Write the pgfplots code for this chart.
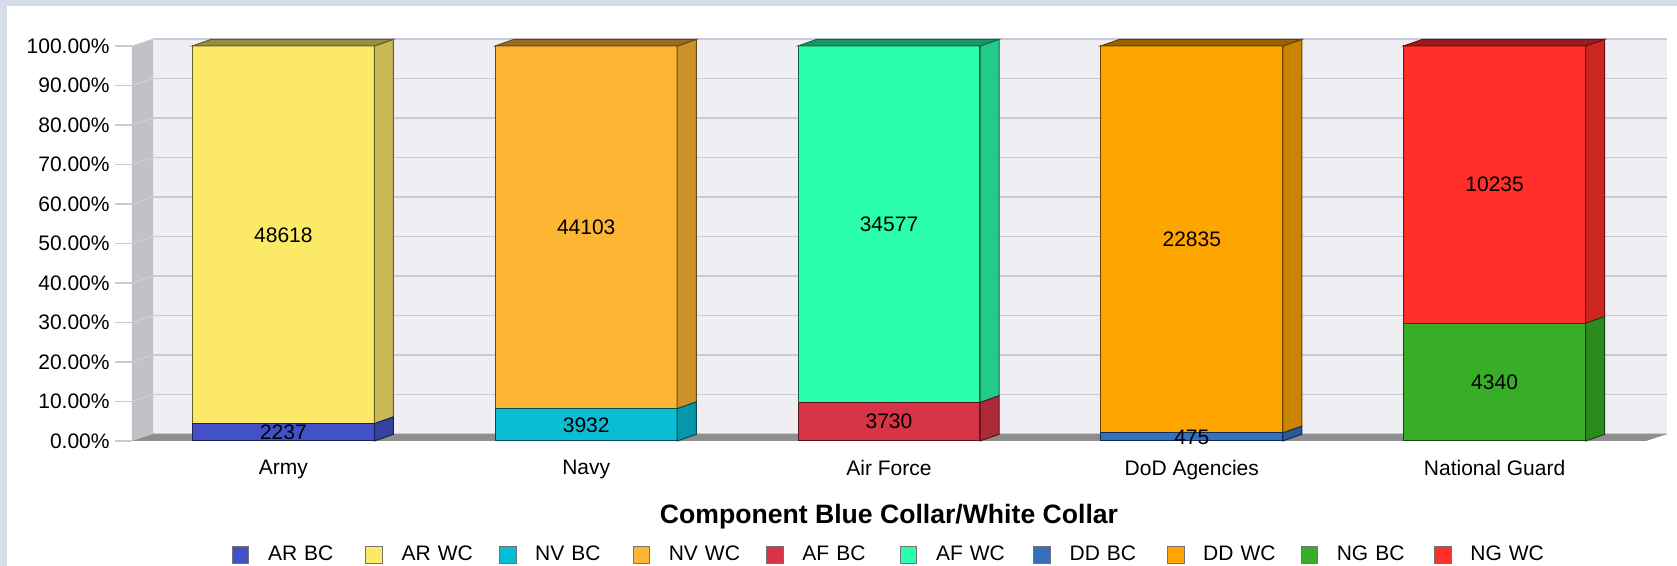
\documentclass[border=0pt]{standalone}
\usepackage{pgfplots}
\pgfplotsset{compat=1.18}
\usepackage{fontspec}
\setmainfont{Liberation Sans}
\definecolor{arbc}{HTML}{4351C8}
\definecolor{arwc}{HTML}{FDE968}
\definecolor{nvbc}{HTML}{09BDD5}
\definecolor{nvwc}{HTML}{FDB633}
\definecolor{afbc}{HTML}{D73447}
\definecolor{afwc}{HTML}{2AFEAB}
\definecolor{ddbc}{HTML}{3570C0}
\definecolor{ddwc}{HTML}{FFA500}
\definecolor{ngbc}{HTML}{38AD27}
\definecolor{ngwc}{HTML}{FF2F2A}
\definecolor{wallc}{HTML}{EEEEF3}
\definecolor{gridc}{HTML}{C9C9DB}
\definecolor{sidewall}{HTML}{C2C2C6}
\definecolor{sidegrid}{HTML}{D2D2DA}
\definecolor{floorc}{HTML}{8E8E8E}
\definecolor{bandc}{HTML}{D6DDE8}
\pgfplotsset{
  front/.style={ybar, fill=#1, draw=#1!40!black, line width=0.5pt, forget plot},
  side/.style={fill=#1!80!black, draw=#1!40!black, line width=0.5pt, forget plot},
  topf/.style={fill=#1!60!black, draw=#1!40!black, line width=0.5pt, forget plot},
}
\begin{document}
\begin{tikzpicture}
\fill[bandc] (-66pt,-62.5pt) rectangle (772.5pt,220.5pt);
\fill[white] (-62.5pt,-62.5pt) rectangle (772.5pt,217.5pt);
\begin{axis}[
  at={(10.5pt,3.5pt)}, anchor=south west,
  scale only axis, width=757pt, height=197.5pt,
  xmin=-0.5, xmax=4.5, ymin=0, ymax=100,
  clip=false,
  axis line style={draw=none},
  axis background/.style={fill=wallc, xshift=10.5pt, yshift=3.5pt},
  ymajorgrids,
  major grid style={draw=gridc, line width=0.6pt, xshift=10.5pt, yshift=3.5pt},
  ytick={0,10,20,30,40,50,60,70,80,90,100},
  yticklabels={0.00\%,10.00\%,20.00\%,30.00\%,40.00\%,50.00\%,60.00\%,70.00\%,80.00\%,90.00\%,100.00\%},
  xtick={0,1,2,3,4},
  xticklabels={Army,Navy,Air Force,DoD Agencies,National Guard},
  major tick length=8.5pt, tick align=outside, ytick pos=left, xtick pos=bottom,
  xtick style={draw=none}, ytick style={draw=gridc, line width=0.6pt},
  yticklabel style={font=\fontsize{10.5}{12}\selectfont, inner xsep=2.5pt},
  xticklabel style={font=\fontsize{10.5}{12}\selectfont, anchor=north, inner ysep=0pt, yshift=-0.8pt},
  bar width=0.601, bar shift=0pt,
  legend columns=10,
  legend style={at={(0.0520,-0.3063)}, anchor=west, draw=none, fill=none,
    inner sep=0pt, outer sep=0pt, font=\fontsize{10.5}{12}\selectfont,
    nodes={text width=48.65pt, align=left, inner xsep=0pt, inner ysep=0pt},
    /tikz/every odd column/.append style={column sep=9.35pt},
    /tikz/every even column/.append style={column sep=0pt}},
  legend image code/.code={\draw[#1, line width=0.5pt] (0pt,-4.15pt) rectangle (8.3pt,4.15pt);},
]
% legend
\addlegendimage{fill=arbc, draw=black!55}\addlegendentry{AR BC}
\addlegendimage{fill=arwc, draw=black!55}\addlegendentry{AR WC}
\addlegendimage{fill=nvbc, draw=black!55}\addlegendentry{NV BC}
\addlegendimage{fill=nvwc, draw=black!55}\addlegendentry{NV WC}
\addlegendimage{fill=afbc, draw=black!55}\addlegendentry{AF BC}
\addlegendimage{fill=afwc, draw=black!55}\addlegendentry{AF WC}
\addlegendimage{fill=ddbc, draw=black!55}\addlegendentry{DD BC}
\addlegendimage{fill=ddwc, draw=black!55}\addlegendentry{DD WC}
\addlegendimage{fill=ngbc, draw=black!55}\addlegendentry{NG BC}
\addlegendimage{fill=ngwc, draw=black!55}\addlegendentry{NG WC}
% left wall and floor
\addplot[fill=sidewall, draw=none, forget plot] coordinates {(-0.5,0) (-0.4306,1.77) (-0.4306,101.77) (-0.5,100)} -- cycle;
\addplot[fill=floorc, draw=none, forget plot] coordinates {(-0.5,0) (-0.4306,1.77) (4.5694,1.77) (4.5,0)} -- cycle;
\addplot[sidegrid, forget plot] coordinates {(-0.5,10) (-0.4306,11.77)};
\addplot[sidegrid, forget plot] coordinates {(-0.5,20) (-0.4306,21.77)};
\addplot[sidegrid, forget plot] coordinates {(-0.5,30) (-0.4306,31.77)};
\addplot[sidegrid, forget plot] coordinates {(-0.5,40) (-0.4306,41.77)};
\addplot[sidegrid, forget plot] coordinates {(-0.5,50) (-0.4306,51.77)};
\addplot[sidegrid, forget plot] coordinates {(-0.5,60) (-0.4306,61.77)};
\addplot[sidegrid, forget plot] coordinates {(-0.5,70) (-0.4306,71.77)};
\addplot[sidegrid, forget plot] coordinates {(-0.5,80) (-0.4306,81.77)};
\addplot[sidegrid, forget plot] coordinates {(-0.5,90) (-0.4306,91.77)};
\addplot[sidegrid, forget plot] coordinates {(-0.5,100) (-0.4306,101.77)};
% Army
\addplot[front=arwc] coordinates {(0,100)};
\addplot[side=arwc] coordinates {(0.3006,4.399) (0.3636,6.099) (0.3636,101.7) (0.3006,100)} -- cycle;
\addplot[topf=arwc] coordinates {(-0.3006,100) (-0.2376,101.7) (0.3636,101.7) (0.3006,100)} -- cycle;
\addplot[front=arbc] coordinates {(0,4.399)};
\addplot[side=arbc] coordinates {(0.3006,0) (0.3636,1.7) (0.3636,6.099) (0.3006,4.399)} -- cycle;
% Navy
\addplot[front=nvwc] coordinates {(1,100)};
\addplot[side=nvwc] coordinates {(1.3006,8.186) (1.3636,9.886) (1.3636,101.7) (1.3006,100)} -- cycle;
\addplot[topf=nvwc] coordinates {(0.6994,100) (0.7624,101.7) (1.3636,101.7) (1.3006,100)} -- cycle;
\addplot[front=nvbc] coordinates {(1,8.186)};
\addplot[side=nvbc] coordinates {(1.3006,0) (1.3636,1.7) (1.3636,9.886) (1.3006,8.186)} -- cycle;
% Air Force
\addplot[front=afwc] coordinates {(2,100)};
\addplot[side=afwc] coordinates {(2.3006,9.737) (2.3636,11.437) (2.3636,101.7) (2.3006,100)} -- cycle;
\addplot[topf=afwc] coordinates {(1.6994,100) (1.7624,101.7) (2.3636,101.7) (2.3006,100)} -- cycle;
\addplot[front=afbc] coordinates {(2,9.737)};
\addplot[side=afbc] coordinates {(2.3006,0) (2.3636,1.7) (2.3636,11.437) (2.3006,9.737)} -- cycle;
% DoD Agencies
\addplot[front=ddwc] coordinates {(3,100)};
\addplot[side=ddwc] coordinates {(3.3006,2.038) (3.3636,3.738) (3.3636,101.7) (3.3006,100)} -- cycle;
\addplot[topf=ddwc] coordinates {(2.6994,100) (2.7624,101.7) (3.3636,101.7) (3.3006,100)} -- cycle;
\addplot[front=ddbc] coordinates {(3,2.038)};
\addplot[side=ddbc] coordinates {(3.3006,0) (3.3636,1.7) (3.3636,3.738) (3.3006,2.038)} -- cycle;
% National Guard
\addplot[front=ngwc] coordinates {(4,100)};
\addplot[side=ngwc] coordinates {(4.3006,29.777) (4.3636,31.477) (4.3636,101.7) (4.3006,100)} -- cycle;
\addplot[topf=ngwc] coordinates {(3.6994,100) (3.7624,101.7) (4.3636,101.7) (4.3006,100)} -- cycle;
\addplot[front=ngbc] coordinates {(4,29.777)};
\addplot[side=ngbc] coordinates {(4.3006,0) (4.3636,1.7) (4.3636,31.477) (4.3006,29.777)} -- cycle;
% value labels
\addplot[draw=none, forget plot, nodes near coords, point meta=explicit symbolic,
  nodes near coords style={anchor=center, font=\fontsize{10.5}{12}\selectfont, text=black}]
  coordinates {(0,2.20)[2237] (0,52.20)[48618] (1,4.09)[3932] (1,54.09)[44103]
    (2,4.87)[3730] (2,54.87)[34577] (3,1.02)[475] (3,51.02)[22835]
    (4,14.89)[4340] (4,64.89)[10235]};
\node[anchor=base, yshift=-41.3pt, font=\bfseries\fontsize{13.3}{16}\selectfont] at (rel axis cs:0.5,0) {Component Blue Collar/White Collar};
\end{axis}
\path[use as bounding box] (-66pt,-62.5pt) rectangle (772.5pt,220.5pt);
\end{tikzpicture}
\end{document}
